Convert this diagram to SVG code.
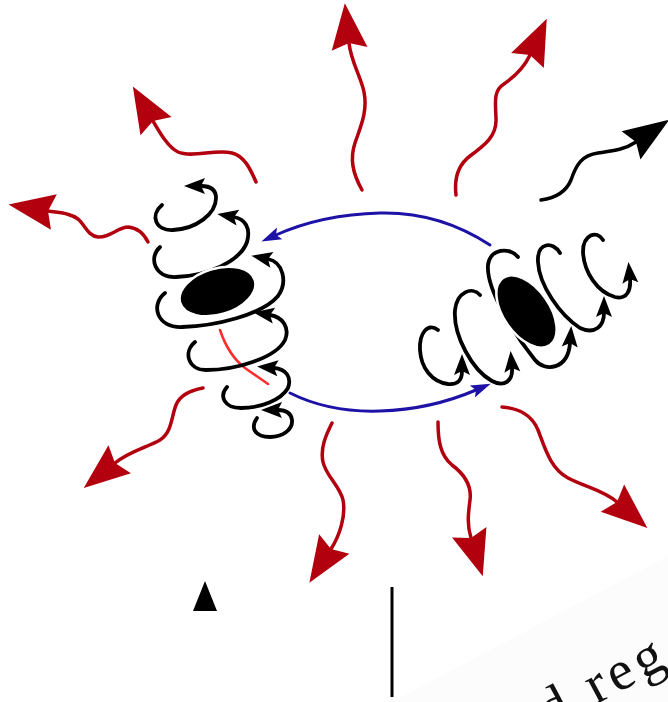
<svg xmlns="http://www.w3.org/2000/svg" width="668" height="702" viewBox="0 0 668 702">
  <style>
    .wave { fill: none; stroke: #b3000f; stroke-width: 3.5; stroke-linecap: round; marker-end: url(#redHead); }
    .wave-k { fill: none; stroke: #000; stroke-width: 3.5; stroke-linecap: round; marker-end: url(#blackHead); }
    .coil { fill: none; stroke: #000; stroke-width: 3.8; stroke-linecap: round; marker-end: url(#coilHead); }
    .flow { fill: none; stroke: #1e12a6; stroke-width: 3; stroke-linecap: round; marker-end: url(#blueHead); }
    .core { fill: #000; stroke: #fff; stroke-width: 2.5; }
    .axis { fill: none; stroke: #ff2a2a; stroke-width: 2.5; stroke-linecap: round; }
    .label { font-family: "Liberation Serif", "Times New Roman", serif; font-size: 56px; letter-spacing: 5px; fill: #111; }
  </style>
  <defs>
    <marker id="redHead" markerUnits="userSpaceOnUse" markerWidth="60" markerHeight="60" refX="6" refY="0" orient="auto" overflow="visible">
      <path d="M46,0 L0,-18 L6,0 L0,18 Z" fill="#b3000f"/>
    </marker>
    <marker id="blackHead" markerUnits="userSpaceOnUse" markerWidth="60" markerHeight="60" refX="6" refY="0" orient="auto" overflow="visible">
      <path d="M46,0 L0,-17 L6,0 L0,17 Z" fill="#000"/>
    </marker>
    <marker id="coilHead" markerUnits="userSpaceOnUse" markerWidth="30" markerHeight="30" refX="4" refY="0" orient="auto" overflow="visible">
      <path d="M21,0 L0,-8 L4,0 L0,8 Z" fill="#000"/>
    </marker>
    <marker id="blueHead" markerUnits="userSpaceOnUse" markerWidth="30" markerHeight="30" refX="4" refY="0" orient="auto" overflow="visible">
      <path d="M20,0 L0,-6.5 L4,0 L0,6.5 Z" fill="#1e12a6"/>
    </marker>
  </defs>

  <rect width="668" height="702" fill="#fff"/>

  <!-- tilted page corner with its partial caption -->
  <g id="page-corner">
    <polygon points="392,702 668,556 668,702" fill="#fcfcfc"/>
    <text class="label" x="550" y="729" transform="rotate(-28 550 729)">d reg</text>
  </g>

  <!-- scale marks -->
  <g id="marker-triangle">
    <polygon points="205,581 193,611 217,611" fill="#000"/>
  </g>
  <g id="marker-bar">
    <line x1="392" y1="587" x2="392" y2="697" stroke="#000" stroke-width="3"/>
  </g>

  <!-- radiated waves -->
  <g id="connectors">
    <path class="wave" d="M256,182 C250,168 244,156 232,153 C215,149 192,158 178,152 C168,147 160,133 153,121"/>
    <path class="wave" d="M362,190 C352,172 350,158 355,143 C360,128 368,112 364,92 C361,77 351,62 349,43"/>
    <path class="wave" d="M456,195 C454,178 458,165 470,156 C485,145 497,136 496,118 C495,100 494,90 504,84 C514,77 524,68 530,55"/>
    <path class="wave-k" d="M541,200 C556,198 566,192 571,180 C576,165 582,155 598,153 C612,151 624,150 636,142"/>
    <path class="wave" d="M148,242 C145,236 140,228 128,227 C118,227 110,238 98,237 C88,236 85,225 78,219 C70,213 60,213 48,211"/>
    <path class="wave" d="M203,388 C192,390 180,395 176,405 C171,418 172,432 160,440 C148,447 130,451 115,463"/>
    <path class="wave" d="M332,423 C326,435 320,448 323,462 C326,476 340,486 343,500 C346,515 340,535 331,549"/>
    <path class="wave" d="M438,422 C438,440 440,455 452,465 C464,474 472,485 470,500 C468,515 467,525 471,538"/>
    <path class="wave" d="M502,407 C518,408 532,415 538,430 C545,448 550,468 568,478 C585,487 603,490 617,502"/>

    <!-- circulation between the two vortices -->
    <path class="flow" d="M490,245 C455,222 420,212 380,213 C342,214 305,222 276,235"/>
    <path class="flow" d="M290,393 C320,408 350,412 380,411 C415,410 448,402 476,390"/>
  </g>

  <!-- left vortex -->
  <g id="vortex-left">
    <path class="axis" d="M220,330 C225,345 232,358 245,368 L268,384"/>
    <path class="coil" d="M162,205 C150,215 155,231 173,230 C196,229 216,214 216,198 C216,190 211,186 201,186"/>
    <path class="coil" d="M160,247 C148,258 155,278 176,277 C206,276 240,262 247,242 C251,228 245,219 234,217"/>
    <path class="coil" d="M165,293 C150,305 157,328 182,327 C215,326 262,315 278,296 C288,282 283,262 268,259"/>
    <path class="coil" d="M195,342 C183,352 188,370 206,370 C236,370 276,358 285,340 C290,328 283,317 270,315"/>
    <path class="coil" d="M227,387 C219,396 224,408 241,408 C261,408 281,400 288,388 C292,377 286,369 274,368"/>
    <path class="coil" d="M257,418 C250,428 255,437 270,437 C282,437 293,430 292,420 C291,413 286,410 278,410"/>
    <ellipse class="core" cx="217.5" cy="291.5" rx="39" ry="23" transform="rotate(-17 217.5 291.5)"/>
  </g>

  <!-- right vortex -->
  <g id="vortex-right">
    <path class="coil" d="M438,330 C428,322 419,333 420,350 C421,368 432,382 448,384 C458,385 462,380 462,371"/>
    <path class="coil" d="M480,295 C472,286 457,292 455,310 C453,335 472,370 492,381 C505,388 513,380 512,368"/>
    <path class="coil" d="M518,257 C510,247 490,248 488,265 C486,290 515,335 535,360 C545,372 568,370 570,343"/>
    <path class="coil" d="M560,253 C553,241 537,242 538,262 C539,285 560,315 580,328 C595,335 604,326 604,313"/>
    <path class="coil" d="M603,240 C597,230 583,234 583,252 C584,272 597,292 615,297 C627,300 631,290 630,279"/>
    <ellipse class="core" cx="526.5" cy="311.5" rx="41" ry="23" transform="rotate(55 526.5 311.5)"/>
  </g>
</svg>
